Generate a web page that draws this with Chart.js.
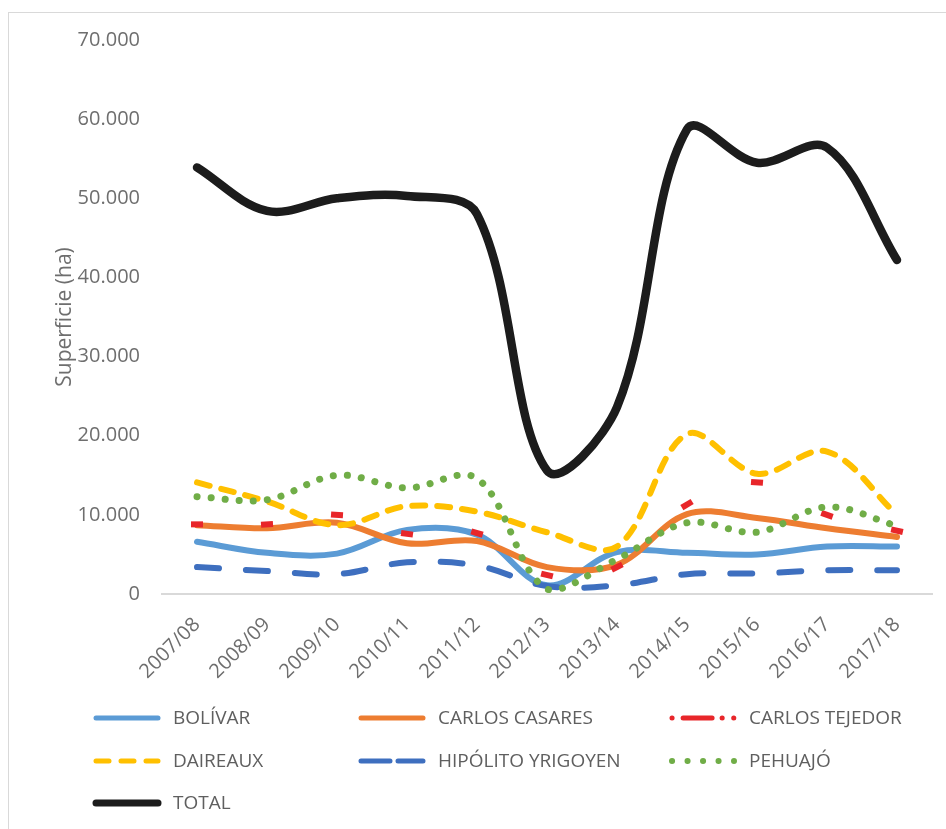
<!DOCTYPE html>
<html>
<head>
<meta charset="utf-8">
<script src="https://cdn.jsdelivr.net/npm/chart.js@4.4.0/dist/chart.umd.min.js"></script>
<style>
  html, body { margin: 0; padding: 0; background: #fff; }
  #wrap { position: relative; width: 946px; height: 829px; overflow: hidden; }
  #frame { position: absolute; left: 8px; top: 12px; width: 1000px; height: 1000px;
           border: 1.5px solid #d9d9d9; box-sizing: border-box; }
  canvas { position: absolute; left: 0; top: 0; }
</style>
</head>
<body>
<div id="wrap">
  <div id="frame"></div>
  <canvas id="chart" width="946" height="829"></canvas>
</div>
<script>
const seasons = ['2007/08', '2008/09', '2009/10', '2010/11', '2011/12', '2012/13',
  '2013/14', '2014/15', '2015/16', '2016/17', '2017/18']

const seriesNames = ['BOLÍVAR', 'CARLOS CASARES', 'CARLOS TEJEDOR', 'DAIREAUX',
  'HIPÓLITO YRIGOYEN', 'PEHUAJÓ', 'TOTAL']

const bolivar = [6600, 5200, 5100, 8100, 7500, 1100, 5300, 5200, 5000, 6000, 6000]
const carlosCasares = [8700, 8300, 9000, 6400, 6700, 3400, 3700, 10100, 9600, 8300, 7200]
const carlosTejedor = [8800, 8800, 10000, 7600, 7700, 2400, 3400, 11300, 14100, 10000, 8000]
const daireaux = [14100, 11700, 8700, 11100, 10400, 7800, 6000, 20200, 15200, 18000, 10000]
const hipolitoYrigoyen = [3400, 2900, 2500, 4000, 3600, 1000, 1100, 2500, 2600, 3000, 3000]
const pehuajo = [12300, 11900, 15000, 13400, 14600, 600, 4400, 9000, 7800, 11000, 8600]
const total = [53900, 48400, 50000, 50300, 48000, 15600, 23600, 58700, 54500, 56400, 42200]

const yTicks = [0, 10000, 20000, 30000, 40000, 50000, 60000, 70000]

const values = [bolivar, carlosCasares, carlosTejedor, daireaux, hipolitoYrigoyen, pehuajo, total]

const styles = [
  { color: '#5b9bd5', width: 6, dash: [], legendDash: [] },
  { color: '#ed7d31', width: 6, dash: [], legendDash: [] },
  { color: '#e8262a', width: 6, dash: [], legendDash: [0.1, 11, 29, 10, 0.1, 11.5, 0.1, 40], markersOnly: true },
  { color: '#ffc000', width: 6, dash: [13, 12], legendDash: [13, 12] },
  { color: '#3e6fbf', width: 6, dash: [22, 27], legendDash: [29, 8] },
  { color: '#70ad47', width: 7, dash: [0.1, 14], legendDash: [0.1, 15.4] },
  { color: '#1c1c1c', width: 8.5, dash: [], legendDash: [] },
]

const formatThousands = v => String(v).replace(/\B(?=(\d{3})+(?!\d))/g, '.')

// tilt the red marks along the curve direction
const slopeRotation = (ctx) => {
  const i = ctx.dataIndex
  const d = ctx.dataset.data
  const xs = ctx.chart.scales.x
  const ys = ctx.chart.scales.y
  if (!xs || !ys) return 0
  const a = Math.max(0, i - 1)
  const b = Math.min(d.length - 1, i + 1)
  const dy = ys.getPixelForValue(d[b]) - ys.getPixelForValue(d[a])
  const dx = xs.getPixelForValue(b) - xs.getPixelForValue(a)
  return Math.atan2(dy, dx) * 180 / Math.PI
}

const datasets = seriesNames.map((name, i) => {
  const s = styles[i]
  const ds = {
    label: name,
    data: values[i],
    borderColor: s.color,
    backgroundColor: s.color,
    borderWidth: s.width,
    borderDash: s.dash,
    borderCapStyle: 'round',
    borderJoinStyle: 'round',
    tension: 0.35,
    pointRadius: 0,
    fill: false,
    order: seriesNames.length - i,
  }
  if (s.markersOnly) {
    ds.showLine = false
    ds.pointStyle = 'line'
    ds.pointRadius = 6
    ds.pointBorderWidth = 6
    ds.pointRotation = slopeRotation
  }
  return ds
})

const legendCols = [93, 358, 669]
const legendRows = [718, 761, 803]

const gridLegend = {
  id: 'gridLegend',
  afterDraw(chart) {
    const ctx = chart.ctx
    ctx.save()
    ctx.font = '19px "Open Sans", sans-serif'
    ctx.textBaseline = 'middle'
    ctx.lineCap = 'round'
    seriesNames.forEach((name, i) => {
      const s = styles[i]
      const x = legendCols[i % 3]
      const y = legendRows[Math.floor(i / 3)]
      ctx.beginPath()
      ctx.strokeStyle = s.color
      ctx.lineWidth = i === 6 ? 7 : (i === 5 ? 6 : 5)
      ctx.setLineDash(s.legendDash)
      ctx.moveTo(x + 3, y)
      ctx.lineTo(x + 65, y)
      ctx.stroke()
      ctx.setLineDash([])
      ctx.fillStyle = '#5f5f5f'
      ctx.fillText(name, x + 80, y + 1)
    })
    ctx.restore()
  }
}

new Chart(document.getElementById('chart'), {
  type: 'line',
  data: { labels: seasons, datasets },
  plugins: [gridLegend],
  options: {
    responsive: false,
    animation: false,
    layout: { padding: { left: 40, right: 14, top: 40, bottom: 135 } },
    plugins: {
      legend: { display: false },
      tooltip: { enabled: false },
    },
    scales: {
      x: {
        offset: true,
        grid: { display: false, drawTicks: false },
        border: { display: true, color: '#d9d9d9', width: 2 },
        ticks: {
          color: '#6e6e6e',
          font: { family: '"Open Sans", sans-serif', size: 20 },
          minRotation: 45,
          maxRotation: 45,
          padding: 19,
        },
        afterFit: scale => { scale.height = 100 },
      },
      y: {
        min: 0,
        max: 70000,
        grid: { display: false, drawTicks: false },
        border: { display: false },
        afterBuildTicks: scale => { scale.ticks = yTicks.map(v => ({ value: v })) },
        ticks: {
          color: '#6e6e6e',
          font: { family: '"Open Sans", sans-serif', size: 20 },
          padding: 22,
          callback: v => formatThousands(v),
        },
        title: {
          display: true,
          text: 'Superficie (ha)',
          color: '#6e6e6e',
          font: { family: '"Open Sans", sans-serif', size: 21 },
          padding: { top: 12, bottom: 0 },
        },
        afterFit: scale => { scale.width = 122 },
      },
    },
  },
})
</script>
</body>
</html>
